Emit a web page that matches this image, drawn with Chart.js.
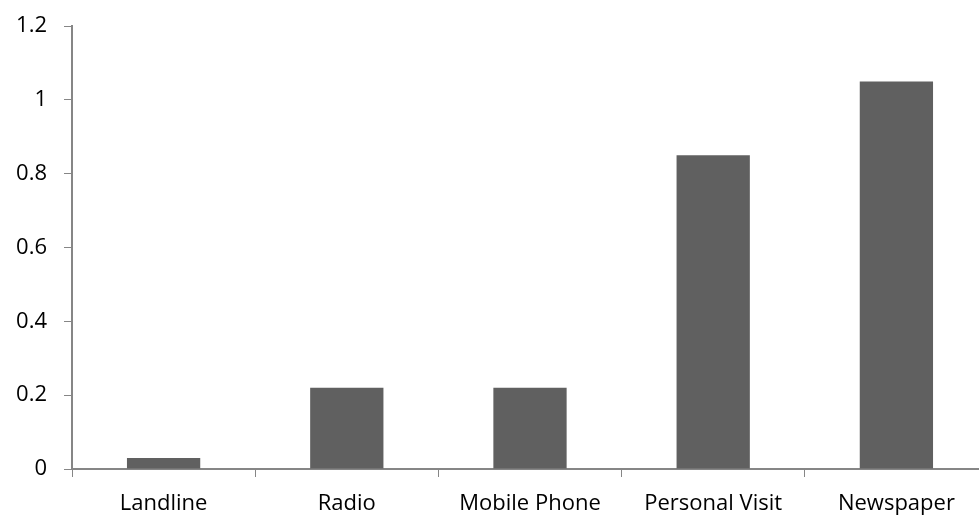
<!DOCTYPE html>
<html>
<head>
<meta charset="utf-8">
<script src="https://cdn.jsdelivr.net/npm/chart.js@4"></script>
<style>
  html, body { margin: 0; padding: 0; background: #fff; overflow: hidden; }
  #wrap { position: relative; width: 990px; height: 517px; }
</style>
</head>
<body>
<div id="wrap"><canvas id="chart"></canvas></div>
<script>
const categories = ["Landline", "Radio", "Mobile Phone", "Personal Visit", "Newspaper"];
const values = [0.03, 0.22, 0.22, 0.85, 1.05];
const yMin = 0, yMax = 1.2, yStep = 0.2;

const axisColor = "#868686";
const font = { family: "'Open Sans', sans-serif", size: 22 };

new Chart(document.getElementById("chart"), {
    type: "bar",
    data: {
        labels: categories,
        datasets: [{
            data: values,
            backgroundColor: "#606060",
            barPercentage: 0.4,
            categoryPercentage: 1
        }]
    },
    options: {
        responsive: true,
        maintainAspectRatio: false,
        animation: false,
        layout: { padding: { top: 26, right: 2, left: 0, bottom: 0 } },
        plugins: { legend: { display: false }, tooltip: { enabled: false } },
        scales: {
            x: {
                grid: { display: true, drawOnChartArea: false, tickLength: 8, color: axisColor, offset: true },
                border: { color: axisColor, width: 2 },
                ticks: { color: "#000", font: font, padding: 14, maxRotation: 0 },
                afterFit: s => { s.height = 48; }
            },
            y: {
                min: yMin,
                max: yMax,
                grid: { display: true, drawOnChartArea: false, tickLength: 8, color: axisColor },
                border: { color: axisColor, width: 2 },
                ticks: { color: "#000", font: { ...font, lineHeight: 1 }, stepSize: yStep, padding: 17,
                         callback: v => +v.toFixed(1) },
                afterFit: s => { s.width = 72; s.paddingTop = 0; s.paddingBottom = 0; }
            }
        }
    }
});
</script>
</body>
</html>
